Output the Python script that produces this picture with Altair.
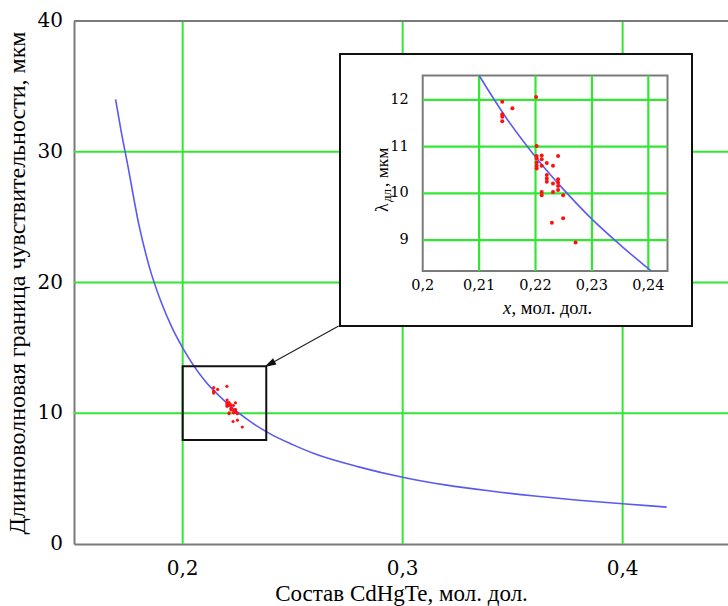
import altair as alt
import pandas as pd

# ---------------- data ----------------
# main curve: long-wave cutoff vs composition
curve_x = [0.1695, 0.172, 0.175, 0.18, 0.185, 0.19, 0.195, 0.20, 0.21, 0.22, 0.23,
           0.24, 0.25, 0.26, 0.28, 0.30, 0.32, 0.34, 0.36, 0.38, 0.40, 0.42]
curve_y = [34.0, 31.6, 29.0, 24.5, 21.1, 18.6, 16.6, 15.0, 12.5, 10.8, 9.45,
           8.4, 7.6, 6.9, 5.9, 5.1, 4.5, 4.05, 3.67, 3.35, 3.08, 2.82]

# same curve as seen inside the inset window
inset_curve_x = [0.21, 0.215, 0.22, 0.225, 0.23, 0.235, 0.2405]
inset_curve_y = [12.52, 11.58, 10.78, 10.08, 9.45, 8.9, 8.34]

# measured samples (red dots)
pts_x = [0.2141, 0.2141, 0.2141, 0.2141, 0.2159, 0.2201,
         0.2202, 0.2202, 0.2202, 0.2202, 0.2202, 0.2202,
         0.2211, 0.2211, 0.2211, 0.2220, 0.2231, 0.2240,
         0.2220, 0.2220, 0.2220, 0.2231,
         0.2240, 0.2240, 0.2240, 0.2240,
         0.2231, 0.2211, 0.2211, 0.2249, 0.2249, 0.2229, 0.2271]
pts_y = [11.96, 11.69, 11.64, 11.54, 11.82, 12.06,
         11.01, 10.80, 10.75, 10.66, 10.59, 10.53,
         10.81, 10.73, 10.59, 10.65, 10.59, 10.80,
         10.39, 10.32, 10.25, 10.21,
         10.30, 10.23, 10.16, 10.07,
         10.03, 10.03, 9.96, 9.96, 9.47, 9.37, 8.95]

# ticks and their labels
main_x_ticks = [0.2, 0.3, 0.4]
main_x_labels = ["0,2", "0,3", "0,4"]
main_y_ticks = [0, 10, 20, 30, 40]
main_y_labels = ["0", "10", "20", "30", "40"]
main_x_grid = [0.2, 0.3, 0.4]
main_y_grid = [10, 20, 30]

inset_x_ticks = [0.2, 0.21, 0.22, 0.23, 0.24]
inset_x_labels = ["0,2", "0,21", "0,22", "0,23", "0,24"]
inset_y_ticks = [9, 10, 11, 12]
inset_y_labels = ["9", "10", "11", "12"]

# zoomed region marked on the main plot, and arrow to the inset
box_x = [0.2, 0.238]
box_y = [7.95, 13.6]
arrow_x = [0.2709, 0.2395]
arrow_y = [16.67, 13.75]

# ---------------- layout constants ----------------
W, H = 654, 523
FONT = "Liberation Serif, Times New Roman, serif"
NUM_FONT = "DejaVu Serif"
GREEN = "#33e633"
BLUE = "#5a5af0"
RED = "#ff1010"
AXIS_GRAY = "#7a7a7a"

# inset geometry in plot-area pixels
IN_L, IN_R, IN_T, IN_B = 348.7, 593.5, 54.5, 250.0
BOX_L, BOX_R, BOX_T, BOX_B = 266, 618, 33, 305

curve_df = pd.DataFrame({"x": curve_x, "y": curve_y})
icurve_df = pd.DataFrame({"x": inset_curve_x, "y": inset_curve_y})
pts_df = pd.DataFrame({"x": pts_x, "y": pts_y})
vgrid_df = pd.DataFrame({"x": main_x_grid})
hgrid_df = pd.DataFrame({"y": main_y_grid})
ivgrid_df = pd.DataFrame({"x": inset_x_ticks[1:]})
ihgrid_df = pd.DataFrame({"y": inset_y_ticks})
xlab_df = pd.DataFrame({"x": main_x_ticks, "t": main_x_labels})
ylab_df = pd.DataFrame({"y": main_y_ticks, "t": main_y_labels})
ixlab_df = pd.DataFrame({"x": inset_x_ticks, "t": inset_x_labels})
iylab_df = pd.DataFrame({"y": inset_y_ticks, "t": inset_y_labels})
box_df = pd.DataFrame({"x": [box_x[0]], "x2": [box_x[1]], "y": [box_y[0]], "y2": [box_y[1]]})
arrow_df = pd.DataFrame({"x": [arrow_x[0]], "x2": [arrow_x[1]], "y": [arrow_y[0]], "y2": [arrow_y[1]]})
head_df = pd.DataFrame({"x": [arrow_x[1]], "y": [arrow_y[1]]})
one_df = pd.DataFrame({"k": [0]})

xs = alt.Scale(domain=[0.1506, 0.4479], nice=False, zero=False)
ys = alt.Scale(domain=[0, 40], nice=False, zero=False)

x_axis = alt.Axis(values=main_x_ticks, labels=False,
                  title="Состав CdHgTe, мол. дол.", grid=False, ticks=False,
                  domainColor=AXIS_GRAY, domainWidth=2, orient="bottom",
                  titleFont=FONT, titleFontSize=23, titleFontWeight="normal", titleColor="#000",
                  titlePadding=38)
y_axis = alt.Axis(values=main_y_ticks, labels=False,
                  title="Длинноволновая граница чувствительности, мкм",
                  grid=False, ticks=False, domainColor=AXIS_GRAY, domainWidth=2, orient="left",
                  titleFont=FONT, titleFontSize=24, titleFontWeight="normal", titleColor="#000",
                  titlePadding=45)

X = alt.X("x:Q", scale=xs, axis=x_axis)
Y = alt.Y("y:Q", scale=ys, axis=y_axis)

# ---------------- main plot ----------------
vgrid = alt.Chart(vgrid_df).mark_rule(color=GREEN, strokeWidth=2).encode(
    x=X, y=alt.value(0), y2=alt.value(H))
hgrid = alt.Chart(hgrid_df).mark_rule(color=GREEN, strokeWidth=2).encode(
    y=Y, x=alt.value(0), x2=alt.value(W))
top_border = alt.Chart(one_df).mark_rule(color=AXIS_GRAY, strokeWidth=2).encode(
    y=alt.value(0), x=alt.value(0), x2=alt.value(W + 5))
main_curve = alt.Chart(curve_df).mark_line(color=BLUE, strokeWidth=1.6, interpolate="monotone").encode(
    x=X, y=Y)
main_pts = alt.Chart(pts_df).mark_circle(color=RED, size=10, opacity=1).encode(x=X, y=Y)
zbox = alt.Chart(box_df).mark_rect(fill=None, stroke="#111", strokeWidth=2).encode(
    x=X, x2="x2", y=Y, y2="y2")
arrow = alt.Chart(arrow_df).mark_rule(color="#222", strokeWidth=1.2).encode(
    x=X, x2="x2", y=Y, y2="y2")
head = alt.Chart(head_df).mark_point(shape="M0,-1L-0.6,1L0.6,1Z", filled=True, color="#111",
                                     size=140, angle=241, opacity=1).encode(x=X, y=Y)
xlab = alt.Chart(xlab_df).mark_text(font=NUM_FONT, fontSize=20, color="#000",
                                    align="center", baseline="middle").encode(
    x=X, y=alt.value(H + 25), text="t:N")
ylab = alt.Chart(ylab_df).mark_text(font=NUM_FONT, fontSize=20, color="#000",
                                    align="right", baseline="middle").encode(
    y=Y, x=alt.value(-11), text="t:N")

main = alt.layer(vgrid, hgrid, top_border, main_curve, zbox, main_pts, arrow, head, xlab, ylab)

# ---------------- inset ----------------
ixs = alt.Scale(domain=[0.2, 0.2434], range=[IN_L, IN_R], nice=False, zero=False)
iys = alt.Scale(domain=[8.34, 12.52], range=[IN_B, IN_T], nice=False, zero=False)

IX = alt.X("x:Q", scale=ixs, axis=None)
IY = alt.Y("y:Q", scale=iys, axis=None)

outer = alt.Chart(one_df).mark_rect(fill="white", stroke="#111", strokeWidth=2).encode(
    x=alt.value(BOX_L), x2=alt.value(BOX_R), y=alt.value(BOX_T), y2=alt.value(BOX_B))
iarea = alt.Chart(one_df).mark_rect(fill="white", stroke=AXIS_GRAY, strokeWidth=2).encode(
    x=alt.value(IN_L), x2=alt.value(IN_R), y=alt.value(IN_T), y2=alt.value(IN_B))
ivgrid = alt.Chart(ivgrid_df).mark_rule(color=GREEN, strokeWidth=2.2).encode(
    x=IX, y=alt.value(IN_T), y2=alt.value(IN_B))
ihgrid = alt.Chart(ihgrid_df).mark_rule(color=GREEN, strokeWidth=2.2).encode(
    y=IY, x=alt.value(IN_L), x2=alt.value(IN_R))
icurve = alt.Chart(icurve_df).mark_line(color=BLUE, strokeWidth=1.6, interpolate="monotone").encode(
    x=IX, y=IY)
ipts = alt.Chart(pts_df).mark_circle(color=RED, size=16, opacity=1).encode(x=IX, y=IY)
ixlab = alt.Chart(ixlab_df).mark_text(font=NUM_FONT, fontSize=14.5, color="#000",
                                      align="center", baseline="middle").encode(
    x=IX, y=alt.value(IN_B + 15), text="t:N")
iylab = alt.Chart(iylab_df).mark_text(font=NUM_FONT, fontSize=14.5, color="#000",
                                      align="right", baseline="middle").encode(
    y=IY, x=alt.value(IN_L - 14), text="t:N")

tx1 = alt.Chart(one_df).mark_text(font=FONT, fontSize=18.5, fontStyle="italic", align="left",
                                  baseline="alphabetic", color="#000").encode(
    x=alt.value(429), y=alt.value(293), text=alt.value("x"))
tx2 = alt.Chart(one_df).mark_text(font=FONT, fontSize=18.5, align="left",
                                  baseline="alphabetic", color="#000").encode(
    x=alt.value(437.5), y=alt.value(293), text=alt.value(", мол. дол."))
ty1 = alt.Chart(one_df).mark_text(font=FONT, fontSize=18, align="left", angle=270,
                                  baseline="alphabetic", color="#000").encode(
    x=alt.value(314), y=alt.value(191), text=alt.value("λ"))
ty2 = alt.Chart(one_df).mark_text(font=FONT, fontSize=13, align="left", angle=270,
                                  baseline="alphabetic", color="#000").encode(
    x=alt.value(317), y=alt.value(181), text=alt.value("дл"))
ty3 = alt.Chart(one_df).mark_text(font=FONT, fontSize=17.5, align="left", angle=270,
                                  baseline="alphabetic", color="#000").encode(
    x=alt.value(314), y=alt.value(166), text=alt.value(", мкм"))

inset = alt.layer(outer, iarea, ivgrid, ihgrid, icurve, ipts, ixlab, iylab,
                  tx1, tx2, ty1, ty2, ty3)

chart = alt.layer(main, inset).resolve_scale(x="independent", y="independent").properties(
    width=W, height=H,
    autosize=alt.AutoSizeParams(type="none"),
    padding={"left": 74, "top": 21, "right": 0, "bottom": 62},
    background="white",
).configure_view(stroke=None)

chart.save("out.html", embed_options={"renderer": "svg", "actions": False})
